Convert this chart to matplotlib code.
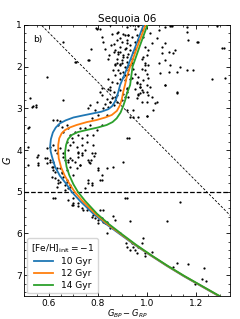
import numpy as np
from matplotlib import pyplot as plt
from matplotlib.ticker import AutoMinorLocator

# observed stars, colour G_BP - G_RP and magnitude G
star_color = [
    0.659, 0.795, 0.765, 0.711, 0.593, 0.772, 0.761, 0.707, 0.793, 0.822,
    0.853, 0.847, 0.867, 0.884, 0.891, 0.877, 0.898, 0.863, 0.891, 0.904,
    0.843, 0.877, 0.850, 0.891, 0.911, 0.877, 0.915, 0.904, 0.918,
    0.925, 0.918, 0.932, 0.918, 0.939, 0.925, 0.911, 0.939, 0.959, 0.973,
    0.993, 1.007, 0.993, 0.986, 1.007, 1.020, 1.013, 1.048, 1.075, 1.102,
    1.041, 1.061, 1.075, 1.116, 1.109, 1.089, 1.061, 1.048, 1.075, 1.095,
    1.089, 1.123, 1.136, 1.164, 1.191, 1.170, 1.205, 1.164, 1.164, 1.286,
    1.314, 1.266, 1.320, 1.054, 1.075, 1.013, 1.095, 1.211, 1.307, 1.123,
    1.034, 1.020,
    0.523, 0.529, 0.547, 0.659, 0.516, 0.618, 0.632, 0.645, 0.638, 0.652,
    0.673, 0.659, 0.679, 0.686, 0.693, 0.707, 0.727, 0.720, 0.734, 0.754,
    0.748, 0.768, 0.775, 0.761, 0.768, 0.795, 0.823, 0.843, 0.850, 0.864,
    0.857, 0.877, 0.891, 0.898, 0.911, 0.918, 0.809, 0.816, 0.850, 0.788,
    0.802, 0.836, 0.816, 0.795, 0.782, 0.754, 0.734, 0.714, 0.686, 0.673,
    0.618, 0.604, 0.591, 0.625, 0.645, 0.659, 0.632, 0.700, 0.679, 0.720,
    0.748, 0.782,
    0.918, 0.973, 0.979, 0.973, 0.966, 1.000, 0.959, 0.979, 1.041, 1.075,
    1.123, 0.925, 0.945, 0.918, 0.932, 0.945, 0.963, 1.000, 0.918, 0.927,
    1.136, 0.911, 0.520, 0.516, 0.536, 0.548, 1.027, 1.000, 0.904, 0.802,
    0.816, 0.836, 0.788, 0.785, 0.765, 0.770, 0.720, 0.734, 0.727, 0.714,
    0.761, 0.775, 0.748, 0.809, 0.516,
    0.584, 0.591, 0.604, 0.618, 0.591, 0.618, 0.625, 0.611, 0.638, 0.645,
    0.632, 0.666, 0.679, 0.686, 0.673, 0.659, 0.645, 0.652, 0.673, 0.686,
    0.693, 0.679, 0.666, 0.659, 0.618, 0.679, 0.693, 0.550, 0.557,
    0.697, 0.720, 0.761, 0.741, 0.782, 0.795, 0.789, 0.802, 0.823, 0.836,
    0.802, 0.829, 0.809, 0.823, 0.863, 0.870, 0.850, 0.839, 0.891, 0.932,
    0.915, 0.918, 0.939, 0.945, 0.952, 0.932, 0.966, 0.979, 0.986, 0.962,
    0.993, 0.993, 1.020, 1.082, 1.109, 1.123, 1.170, 1.232, 1.225, 1.243,
    1.198,
    0.809, 0.850, 0.918, 0.932, 0.945, 0.952, 0.966, 0.979, 0.993,
    0.857, 0.884, 0.904, 0.925, 0.938, 0.959, 0.918, 0.898, 0.877, 0.864,
    0.891, 0.911, 0.932, 0.952, 0.966, 0.870, 0.884, 0.904, 0.925, 0.945,
    0.952, 0.877, 0.898, 0.918, 0.938, 0.870, 0.891, 0.925, 0.816, 0.829,
    0.843, 0.986, 0.993, 1.000, 0.979, 1.007,
    0.870, 0.891, 0.911, 0.932, 0.945, 0.884, 0.904, 0.925, 0.870, 0.891,
    0.911, 0.932, 0.952, 0.966, 0.979, 0.993, 1.000, 0.959, 0.973, 0.986,
    1.000, 0.952, 0.966, 0.986, 0.857, 0.843, 0.864, 0.836, 0.816, 0.870,
    0.877, 0.829, 0.850, 0.918, 0.904, 1.000, 1.007,
    0.557, 0.557, 0.604, 0.611, 0.618, 0.632, 0.652, 0.625, 0.638, 0.673,
    0.686, 0.666, 0.700, 0.720, 0.734, 0.761, 0.768, 0.775, 0.727, 0.679,
    0.707, 0.686, 0.761, 0.775, 0.816, 0.802, 0.863, 0.625, 0.700, 0.700,
    0.720, 0.734, 0.754, 0.775, 0.795, 0.816, 0.918,
]
star_mag = [
    1.40, 1.10, 1.84, 1.90, 2.24, 1.58, 1.84, 1.88, 1.08, 1.40,
    1.48, 1.72, 1.66, 1.66, 1.64, 1.92, 1.92, 2.08, 2.16, 2.24,
    2.30, 2.40, 2.48, 1.32, 1.24, 1.20, 1.56, 1.76, 2.00,
    1.24, 1.44, 1.60, 1.76, 1.92, 2.08, 2.20, 2.28, 2.40, 2.48,
    2.08, 2.28, 1.92, 1.76, 1.60, 1.44, 1.20, 1.12, 1.04, 1.02,
    1.32, 1.52, 1.44, 1.60, 1.68, 1.64, 1.68, 1.92, 1.84, 1.96,
    2.12, 2.12, 2.00, 2.08, 2.08, 1.36, 1.40, 1.16, 1.04, 1.02,
    1.56, 2.30, 2.28, 2.16, 2.44, 2.48, 1.02, 1.42, 1.56, 2.64,
    2.88, 2.72,
    2.76, 2.98, 2.96, 2.80, 3.46, 3.28, 3.28, 3.30, 3.40, 3.44,
    3.40, 3.56, 3.48, 3.64, 3.72, 3.56, 3.48, 3.64, 3.72, 3.64,
    3.48, 3.40, 3.24, 3.00, 2.92, 2.84, 3.00, 2.96, 2.84, 2.92,
    2.76, 2.68, 2.56, 2.80, 2.72, 2.60, 2.60, 2.52, 2.56, 3.04,
    3.16, 3.16, 3.40, 3.52, 3.64, 3.80, 3.88, 3.92, 3.88, 3.80,
    3.88, 3.92, 3.96, 4.00, 3.96, 4.08, 4.08, 3.80, 4.00, 4.04,
    4.00, 3.88,
    2.52, 2.48, 2.56, 2.64, 2.68, 2.60, 2.76, 2.84, 2.84, 2.45,
    2.62, 2.72, 3.04, 3.04, 3.20, 3.20, 3.20, 3.18, 3.70, 3.70,
    5.24, 5.16, 3.44, 3.92, 2.94, 2.92, 3.04, 3.18, 4.28, 4.48,
    4.60, 4.44, 4.08, 4.15, 4.28, 4.24, 4.08, 4.08, 4.36, 4.44,
    4.72, 4.80, 4.92, 4.72, 4.36,
    4.20, 4.20, 4.24, 4.28, 4.32, 4.40, 4.52, 4.64, 4.72, 4.76,
    4.88, 4.84, 4.92, 4.84, 4.72, 4.64, 4.44, 4.52, 4.48, 4.40,
    4.24, 4.24, 4.24, 4.16, 5.16, 5.20, 5.32, 4.16, 4.32,
    5.28, 5.34, 5.36, 5.44, 5.56, 5.56, 5.64, 5.68, 5.72, 5.72,
    5.76, 5.76, 5.44, 5.44, 5.58, 5.68, 5.88, 5.99, 5.99, 5.69,
    6.24, 6.32, 6.24, 6.32, 6.40, 6.40, 6.32, 6.24, 6.12, 6.48,
    6.48, 6.53, 6.44, 5.70, 6.80, 6.72, 6.74, 6.84, 7.08, 7.13,
    7.20,
    1.09, 1.01, 1.05, 1.01, 1.01, 1.09, 1.02, 1.13, 1.01,
    1.21, 1.17, 1.21, 1.25, 1.29, 1.25, 1.37, 1.41, 1.37, 1.45,
    1.53, 1.57, 1.49, 1.41, 1.37, 1.61, 1.69, 1.73, 1.69, 1.65,
    1.57, 1.81, 1.85, 1.89, 1.81, 1.93, 1.97, 1.97, 1.29, 1.57,
    1.81, 1.29, 1.53, 1.73, 1.81, 1.97,
    1.97, 1.93, 2.01, 1.97, 2.05, 2.09, 2.13, 2.17, 2.21, 2.29,
    2.33, 2.29, 2.17, 2.25, 2.05, 1.97, 2.17, 2.37, 2.41, 2.33,
    2.45, 2.53, 2.65, 2.61, 2.37, 2.53, 2.61, 2.77, 2.69, 2.73,
    2.85, 2.89, 2.85, 2.53, 2.65, 2.85, 2.69,
    4.12, 4.36, 4.28, 4.40, 4.48, 4.44, 4.56, 4.68, 4.80, 4.76,
    4.88, 4.96, 4.60, 4.16, 4.12, 4.24, 4.32, 4.08, 4.36, 4.28,
    4.28, 4.20, 4.80, 4.84, 4.72, 4.44, 4.40, 5.16, 5.16, 5.32,
    5.28, 5.40, 5.44, 5.60, 5.56, 5.64, 5.14,
]

# isochrones, [Fe/H]_init = -1
iso_labels = ['10 Gyr', '12 Gyr', '14 Gyr']
iso_10_color = [0.987, 0.955, 0.922, 0.905, 0.891, 0.884, 0.877, 0.870, 0.858,
                0.843, 0.815, 0.782, 0.740, 0.700, 0.668, 0.645, 0.628, 0.616,
                0.608, 0.605, 0.607, 0.612, 0.625, 0.645, 0.672, 0.693, 0.727,
                0.782, 0.835, 0.891, 0.950, 1.014, 1.080, 1.150, 1.225, 1.300]
iso_10_mag = [1.00, 1.50, 2.00, 2.25, 2.44, 2.60, 2.74, 2.84, 2.95,
              3.02, 3.08, 3.12, 3.17, 3.22, 3.29, 3.36, 3.46, 3.58,
              3.74, 3.90, 4.03, 4.15, 4.40, 4.62, 4.82, 5.00, 5.22,
              5.53, 5.78, 6.02, 6.27, 6.52, 6.77, 7.02, 7.27, 7.52]
iso_12_color = [0.995, 0.963, 0.932, 0.918, 0.911, 0.904, 0.898, 0.891, 0.878,
                0.857, 0.830, 0.795, 0.755, 0.713, 0.685, 0.666, 0.652, 0.642,
                0.638, 0.638, 0.640, 0.650, 0.665, 0.685, 0.705, 0.737,
                0.790, 0.840, 0.895, 0.953, 1.016, 1.082, 1.152, 1.227, 1.302]
iso_12_mag = [1.00, 1.50, 2.00, 2.25, 2.44, 2.60, 2.78, 2.92, 3.06,
              3.16, 3.22, 3.28, 3.33, 3.40, 3.46, 3.52, 3.60, 3.72,
              3.88, 4.04, 4.20, 4.42, 4.62, 4.82, 5.00, 5.22,
              5.53, 5.78, 6.02, 6.27, 6.52, 6.77, 7.02, 7.27, 7.52]
iso_14_color = [1.003, 0.972, 0.942, 0.935, 0.932, 0.925, 0.918, 0.912, 0.904,
                0.893, 0.877, 0.860, 0.836, 0.800, 0.754, 0.718, 0.693, 0.678,
                0.670, 0.666, 0.667, 0.672, 0.683, 0.700, 0.718, 0.748,
                0.797, 0.846, 0.899, 0.956, 1.018, 1.084, 1.154, 1.229, 1.304]
iso_14_mag = [1.00, 1.50, 2.00, 2.30, 2.44, 2.55, 2.66, 2.80, 2.94,
              3.10, 3.24, 3.33, 3.40, 3.46, 3.52, 3.57, 3.64, 3.74,
              3.88, 4.05, 4.20, 4.40, 4.60, 4.82, 5.00, 5.22,
              5.53, 5.78, 6.02, 6.27, 6.52, 6.77, 7.02, 7.27, 7.52]

# selection cuts
mag_cut = 5.0
cut_slope, cut_intercept = 5.908, -2.356  # G = slope * colour + intercept

fig = plt.figure(figsize=(2.4, 3.19), dpi=100)
ax = fig.add_axes([0.102, 0.072, 0.856, 0.850])

ax.scatter(star_color, star_mag, s=2.6, c='k', lw=0, zorder=2)

for col, mag, lab, c in zip([iso_10_color, iso_12_color, iso_14_color],
                            [iso_10_mag, iso_12_mag, iso_14_mag],
                            iso_labels, ['tab:blue', 'tab:orange', 'tab:green']):
    ax.plot(col, mag, color=c, lw=1.3, label=lab, zorder=3)

ax.axhline(mag_cut, color='k', ls='--', lw=0.9, zorder=1)
xs = np.array([0.4, 1.5])
ax.plot(xs, cut_slope * xs + cut_intercept, color='k', ls=(0, (3, 2)), lw=0.6, zorder=1)

ax.set_xlim(0.5, 1.34)
ax.set_ylim(7.5, 1)
ax.set_yticks([1, 2, 3, 4, 5, 6, 7])
ax.set_xticks([0.6, 0.8, 1.0, 1.2])
ax.xaxis.set_minor_locator(AutoMinorLocator(4))
ax.yaxis.set_minor_locator(AutoMinorLocator(5))
ax.tick_params(which='both', direction='in', top=True, right=True, labelsize=6.5, pad=2)
ax.tick_params(which='major', length=3, width=0.6)
ax.tick_params(which='minor', length=1.5, width=0.5)
for sp in ax.spines.values():
    sp.set_linewidth(0.6)

ax.set_xlabel(r'$G_{BP}-G_{RP}$', fontsize=6, labelpad=0)
ax.set_ylabel(r'$G$', fontsize=7, labelpad=2)
ax.set_title('Sequoia 06', fontsize=7.5, pad=2)
ax.text(0.04, 0.945, 'b)', transform=ax.transAxes, fontsize=6.5, va='center')

leg = ax.legend(loc='lower left', title=r'[Fe/H]$_{\rm init}=-1$', fontsize=6.5,
                title_fontsize=6.5, handlelength=2.2, borderaxespad=0.3,
                labelspacing=0.3, framealpha=0.8)

fig.savefig('out.png', dpi=100)
